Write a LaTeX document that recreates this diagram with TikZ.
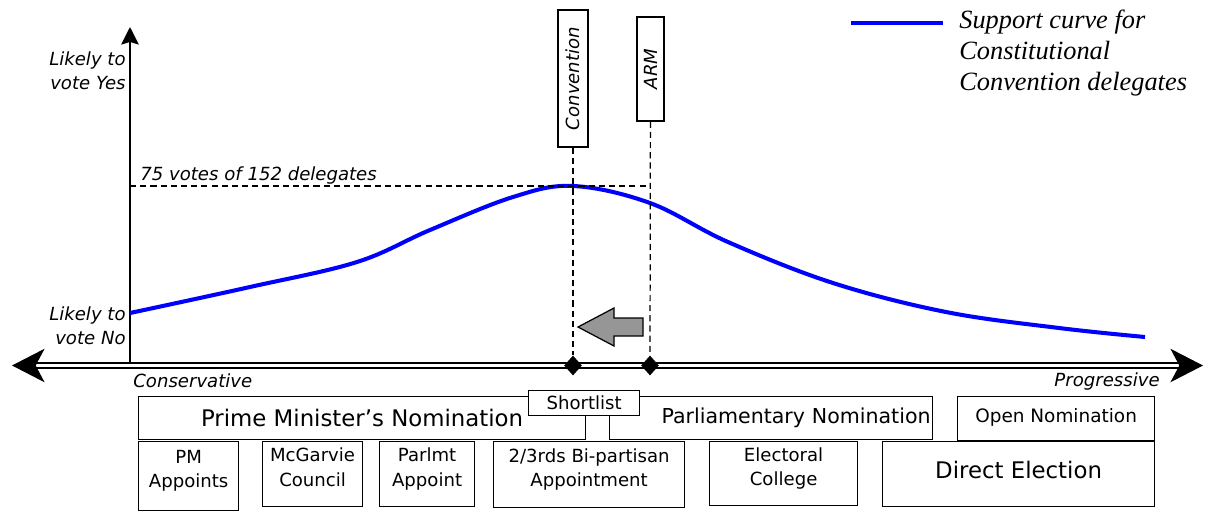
\documentclass[tikz,border=0pt]{standalone}
\usepackage{fontspec}
\setmainfont{DejaVu Sans}
\newfontfamily\legendfont{Liberation Serif}
\usetikzlibrary{arrows.meta,shapes.geometric}
\definecolor{arrowgray}{RGB}{150,150,150}
\begin{document}
\begin{tikzpicture}[x=0.02cm,y=-0.02cm,
  box/.style 2 args={draw,line width=0.7pt,inner sep=0pt,anchor=north west,align=center,
    minimum width=#1*0.02cm,minimum height=#2*0.02cm},
  smalltext/.style={font=\fontsize{10.3}{13.8}\selectfont},
  bigtext/.style={font=\fontsize{13}{15}\selectfont},
  axislabel/.style={inner sep=0pt,font=\fontsize{10.3}{13.6}\selectfont\itshape},
  tag/.style 2 args={draw,line width=0.7pt,inner sep=0pt,rotate=90,
    font=\fontsize{10.3}{13.6}\selectfont\itshape,
    minimum width=#1*0.02cm,minimum height=#2*0.02cm},
  guide/.style={dashed,dash pattern=on 3.5pt off 2.3pt,line width=0.7pt},
  support/.style={draw=blue,line width=2.3pt},
  marker/.style={diamond,fill=black,inner sep=0pt,minimum width=18*0.02cm,minimum height=20*0.02cm}]
\useasboundingbox (0,0) rectangle (1208,511);

% axes
\coordinate (origin) at (130,363);
\coordinate (ytop) at (130,27);
\coordinate (west) at (12,365.5);
\coordinate (east) at (1203,365.5);
\draw[line width=0.85pt,-{Stealth[length=10pt,width=10pt,inset=1.5pt]}] (origin) -- (ytop);
\draw[double,double distance=2pt,line width=0.8pt,
  {Stealth[length=18.5pt,width=19pt,inset=5pt]}-{Stealth[length=18.5pt,width=19pt,inset=5pt]}] (west) -- (east);

\node[axislabel,anchor=north east,align=right] (yes) at (126,51) {Likely to\\vote Yes};
\node[axislabel,anchor=north east,align=right] (no) at (126,306) {Likely to\\vote No};
\node[axislabel,anchor=base west] (cons) at (133,387) {Conservative};
\node[axislabel,anchor=base east] (prog) at (1160,386) {Progressive};

% support curve
\draw[support] plot[smooth,tension=0.6] coordinates {(130,313) (250,287) (357,262)
  (430,230) (513,197) (573,186) (650,203) (728,242) (833,283) (946,312) (1059,328) (1145,337)};

% positions
\node[tag={137}{30}] (conv) at (573,78.5) {Convention};
\node[tag={104}{27}] (arm) at (650.5,69) {ARM};
\node[marker] (dconv) at (573,365.5) {};
\node[marker] (darm) at (650,365.5) {};
\draw[guide] (conv) -- (dconv);
\draw[guide] (arm) -- (darm);

\coordinate (half) at (130,186);
\coordinate (armhalf) at (650,186);
\draw[guide] (half) -- (armhalf);
\node[axislabel,anchor=base west] (votes) at (140,180) {75 votes of 152 delegates};

\draw[line width=0.7pt,fill=arrowgray] (578,327) -- (614,308) -- (614,318) -- (643,318)
  -- (643,336) -- (614,336) -- (614,346) -- cycle;

% legend
\coordinate (legA) at (851,23);
\coordinate (legB) at (943,23);
\draw[support] (legA) -- (legB);
\node[anchor=north west,align=left,inner sep=0pt,font=\legendfont\itshape\fontsize{15}{17.6}\selectfont]
  (legend) at (959,10) {Support curve for\\Constitutional\\Convention delegates};

% selection methods
\node[box={447}{43},bigtext] (pmnom) at (138,396) {Prime Minister's Nomination};
\node[box={323}{43},font=\fontsize{11.7}{14}\selectfont,text width=6.38cm,align=right] (parlnom) at (609,396) {Parliamentary Nomination};
\node[box={111}{25},smalltext,fill=white] (short) at (528,390) {Shortlist};
\node[box={197}{44},font=\fontsize{10.5}{13}\selectfont,text depth=3.4pt] (open) at (957,396) {Open Nomination};

\node[box={100}{69},smalltext,text depth=8pt] (pmapp) at (138,441) {PM\\Appoints};
\node[box={100}{65},smalltext,text depth=8pt] (mcg) at (262,441) {McGarvie\\Council};
\node[box={95}{65},smalltext,text depth=8pt] (parlapp) at (379,441) {Parlmt\\Appoint};
\node[box={191}{66},smalltext,text depth=8pt] (bipart) at (493,441) {2/3rds Bi-partisan\\Appointment};
\node[box={148}{64},smalltext,text depth=8pt] (elect) at (709,441) {Electoral\\College};
\node[box={272}{65},bigtext,text depth=4.5pt] (direct) at (882,441) {Direct Election};
\end{tikzpicture}
\end{document}
